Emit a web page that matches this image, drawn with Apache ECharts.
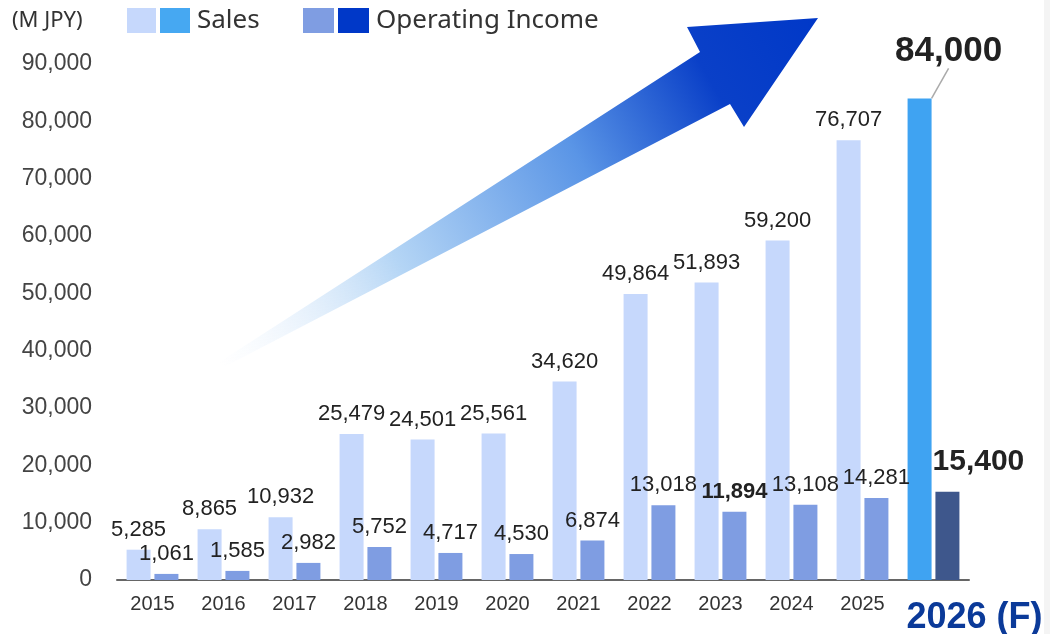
<!DOCTYPE html>
<html>
	<head>
		<meta charset="UTF-8">
		<title></title>
		<script src="https://cdn.jsdelivr.net/npm/echarts@6/dist/echarts.min.js"></script>
		<style type="text/css">
			body { margin: 0; background: #fff; }
		</style>
	</head>
	<body>
		<div id="box" style="width:1050px;height:634px;"></div>

		<script type="text/javascript">
			var years = ['2015', '2016', '2017', '2018', '2019', '2020', '2021', '2022', '2023', '2024', '2025', '2026 (F)'];
			var sales = [5285, 8865, 10932, 25479, 24501, 25561, 34620, 49864, 51893, 59200, 76707, 84000];
			var income = [1061, 1585, 2982, 5752, 4717, 4530, 6874, 13018, 11894, 13108, 14281, 15400];
			var yTicks = [0, 10000, 20000, 30000, 40000, 50000, 60000, 70000, 80000, 90000];

			var last = years.length - 1;
			function fmt(v) { return v.toLocaleString('en-US'); }

			var salesData = sales.map(function (v, i) {
				if (i !== last) return v;
				return {
					value: v,
					itemStyle: { color: '#3fa3f2' },
					label: { fontSize: 35, fontWeight: 'bold', color: '#222' },
					labelLine: { show: true, lineStyle: { color: '#aaa', width: 1.5 } }
				};
			});
			var incomeData = income.map(function (v, i) {
				if (i === 8) {
					return { value: v, label: { fontWeight: 'bold' } };
				}
				if (i !== last) return v;
				return {
					value: v,
					itemStyle: { color: '#3e578c' },
					label: { fontSize: 30, fontWeight: 'bold', color: '#222', offset: [31, -6] }
				};
			});

			var myChart = echarts.init(document.getElementById('box'));

			var legendFont = 'Noto Sans, sans-serif';

			var option = {
				animation: false,
				grid: { left: 117, right: 81, top: 64, bottom: 54, containLabel: false, outerBoundsMode: 'none' },
				xAxis: {
					type: 'category',
					data: years,
					axisLine: { lineStyle: { color: '#666', width: 2 } },
					axisTick: { show: false },
					axisLabel: {
						interval: 0,
						color: '#333',
						fontSize: 20,
						margin: 14,
						fontFamily: 'Liberation Sans, Arial, sans-serif',
						formatter: function (v) {
							return v === years[last] ? '{f|' + v + '}' : v;
						},
						rich: {
							f: { fontSize: 36, fontWeight: 'bold', color: '#0b3a99', padding: [6, 0, 0, 82],
								fontFamily: 'Liberation Sans, Arial, sans-serif' }
						}
					}
				},
				yAxis: {
					type: 'value',
					min: yTicks[0],
					max: yTicks[yTicks.length - 1],
					interval: 10000,
					splitLine: { show: false },
					axisLine: { show: false },
					axisTick: { show: false },
					axisLabel: {
						color: '#444',
						fontSize: 23,
						margin: 25,
						fontFamily: 'Liberation Sans, Arial, sans-serif',
						formatter: function (v) { return fmt(v); }
					}
				},
				series: [{
					name: 'Sales',
					type: 'bar',
					barWidth: 24,
					barGap: '16%',
					itemStyle: { color: '#c6d8fc' },
					label: {
						show: true,
						position: 'top',
						distance: 9,
						fontSize: 22,
						color: '#222',
						fontFamily: 'Liberation Sans, Arial, sans-serif',
						formatter: function (p) { return fmt(p.value); }
					},
					labelLayout: function (p) {
						if (p.dataIndex === last) return { dx: 29, dy: -21 };
						return {};
					},
					data: salesData
				}, {
					name: 'Operating Income',
					type: 'bar',
					barWidth: 24,
					itemStyle: { color: '#7f9de2' },
					label: {
						show: true,
						position: 'top',
						distance: 9,
						fontSize: 22,
						color: '#222',
						fontFamily: 'Liberation Sans, Arial, sans-serif',
						formatter: function (p) { return fmt(p.value); }
					},
					data: incomeData
				}],
				graphic: [
					{
						type: 'polygon',
						z: 1,
						shape: {
							points: [[218, 363], [700, 52], [687, 27], [818, 18], [744, 127], [730, 104], [226, 366]]
						},
						style: {
							fill: new echarts.graphic.LinearGradient(0, 1, 1, 0, [
								{ offset: 0, color: 'rgba(235,243,253,0)' },
								{ offset: 0.3, color: '#b4d5f5' },
								{ offset: 0.6, color: '#5a95e6' },
								{ offset: 0.82, color: '#0a40c8' },
								{ offset: 1, color: '#0038c8' }
							])
						}
					},
					{ type: 'rect', shape: { x: 1044, y: 0, width: 6, height: 634 }, style: { fill: '#f4f4f4' } },
					{ type: 'text', left: 12, top: 10, style: { text: '(M JPY)', fontSize: 22, fill: '#333', fontFamily: legendFont, letterSpacing: 2 } },
					{ type: 'rect', shape: { x: 127, y: 8, width: 29, height: 25 }, style: { fill: '#c6d8fc' } },
					{ type: 'rect', shape: { x: 160, y: 8, width: 30, height: 25 }, style: { fill: '#46a8f2' } },
					{ type: 'text', left: 197, top: 8, style: { text: 'Sales', fontSize: 26, fill: '#333', fontFamily: legendFont, letterSpacing: 1 } },
					{ type: 'rect', shape: { x: 303, y: 8, width: 31, height: 25 }, style: { fill: '#7f9de2' } },
					{ type: 'rect', shape: { x: 338, y: 8, width: 31, height: 25 }, style: { fill: '#0038c8' } },
					{ type: 'text', left: 376, top: 8, style: { text: 'Operating Income', fontSize: 26, fill: '#333', fontFamily: legendFont, letterSpacing: 1 } }
				]
			};
			myChart.setOption(option);
		</script>
	</body>
</html>
